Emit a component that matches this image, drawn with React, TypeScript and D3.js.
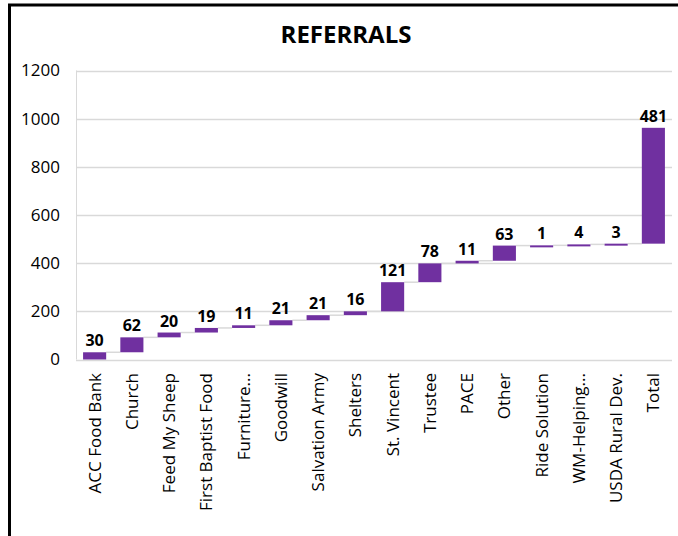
import React from 'react';
import * as d3 from 'd3';

// Waterfall data
const categories = [
  'ACC Food Bank', 'Church', 'Feed My Sheep', 'First Baptist Food', 'Furniture...',
  'Goodwill', 'Salvation Army', 'Shelters', 'St. Vincent', 'Trustee', 'PACE',
  'Other', 'Ride Solution', 'WM-Helping...', 'USDA Rural Dev.',
];
const values = [30, 62, 20, 19, 11, 21, 21, 16, 121, 78, 11, 63, 1, 4, 3];
const totalLabel = 'Total';
const yTicks = [0, 200, 400, 600, 800, 1000, 1200];

const WIDTH = 678;
const HEIGHT = 536;
const PURPLE = '#7030A0';
const FONT = '"Open Sans", sans-serif';

const App = () => {
  const margin = { left: 76, right: 6, top: 71, bottom: 177 };

  // cumulative steps
  let running = 0;
  const steps = values.map((v, i) => {
    const start = running;
    running += v;
    return { name: categories[i], start, end: running, label: String(v) };
  });
  const total = running;
  // the total bar sits on top of the running sum in the reference
  steps.push({ name: totalLabel, start: total, end: total * 2, label: String(total) });

  const x = d3.scaleBand()
    .domain(steps.map(d => d.name))
    .range([margin.left, WIDTH - margin.right])
    .paddingInner(0.38)
    .paddingOuter(0.19);

  const y = d3.scaleLinear()
    .domain([0, 1200])
    .range([HEIGHT - margin.bottom + 0.5, margin.top - 0.5]);

  const bw = x.bandwidth();

  return (
    <svg
      width={WIDTH}
      height={HEIGHT}
      style={{ position: 'absolute', left: 0, top: 0, background: '#fff' }}
      fontFamily={FONT}
    >
      {/* frame */}
      <line x1={9.5} y1={5} x2={9.5} y2={HEIGHT} stroke="#000" strokeWidth={3} />
      <line x1={8} y1={5} x2={WIDTH} y2={5} stroke="#000" strokeWidth={3} />

      <text x={346} y={43} textAnchor="middle" fontSize={24} fontWeight="bold" fill="#000">
        REFERRALS
      </text>

      {/* gridlines */}
      {yTicks.map(t => (
        <g key={t}>
          <line
            x1={margin.left} x2={WIDTH - margin.right}
            y1={Math.round(y(t)) + 0.5} y2={Math.round(y(t)) + 0.5}
            stroke="#d9d9d9" strokeWidth={1.5}
          />
          <text
            x={60} y={y(t)} dy="0.35em" textAnchor="end"
            fontSize={17} fill="#000"
          >
            {t}
          </text>
        </g>
      ))}
      <line
        x1={margin.left + 0.5} x2={margin.left + 0.5}
        y1={y(1200)} y2={y(0)}
        stroke="#d9d9d9" strokeWidth={1}
      />

      {/* connectors */}
      {steps.slice(0, -1).map((d, i) => {
        const next = steps[i + 1];
        return (
          <line
            key={'c' + i}
            x1={(x(d.name) as number) + bw}
            x2={x(next.name) as number}
            y1={y(d.end)} y2={y(d.end)}
            stroke="#d9d9d9" strokeWidth={1.5}
          />
        );
      })}

      {/* bars */}
      {steps.map(d => (
        <rect
          key={d.name}
          x={x(d.name)}
          y={y(d.end)}
          width={bw}
          height={Math.max(2, y(d.start) - y(d.end))}
          fill={PURPLE}
        />
      ))}

      {/* data labels */}
      {steps.map(d => (
        <text
          key={'l' + d.name}
          x={(x(d.name) as number) + bw / 2}
          y={y(d.end) - 6}
          textAnchor="middle"
          fontSize={16}
          fontWeight="bold"
          fill="#000"
        >
          {d.label}
        </text>
      ))}

      {/* category labels */}
      {steps.map(d => {
        const cx = (x(d.name) as number) + bw / 2;
        const ty = 373;
        return (
          <text
            key={'x' + d.name}
            transform={`translate(${cx},${ty}) rotate(-90)`}
            textAnchor="end"
            dy="0.35em"
            fontSize={17}
            fill="#000"
          >
            {d.name}
          </text>
        );
      })}
    </svg>
  );
};

export default App;
